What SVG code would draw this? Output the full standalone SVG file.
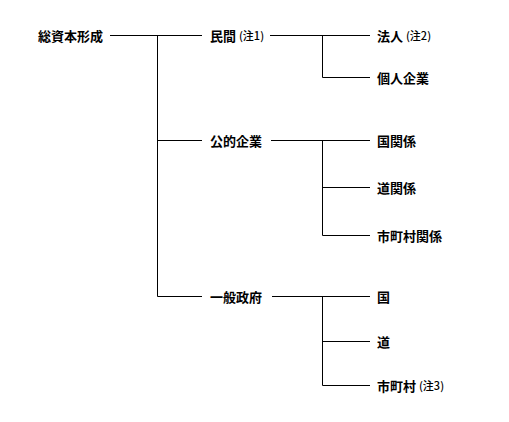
<svg xmlns="http://www.w3.org/2000/svg" width="509" height="422" viewBox="0 0 509 422">
<style>
.t{font-family:"Noto Sans CJK JP","Noto Sans",sans-serif;font-size:13px;font-weight:bold;fill:#000;dominant-baseline:central}
.n{font-size:11px;font-weight:500}
.c{stroke:#000;stroke-width:1;fill:none}
</style>
<rect width="509" height="422" fill="#fff"/>
<g id="connectors" class="c">
<path d="M110 35.5H202M157.5 35.5V296.5M157.5 140.5H202M157.5 296.5H202"/>
<path d="M270 35.5H370M322.5 35.5V77.5H370"/>
<path d="M271 140.5H370M322.5 140.5V235.5H370M322.5 187.5H370"/>
<path d="M272 296.5H370M322.5 296.5V385.5H370M322.5 341.5H370"/>
</g>
<g id="n-root"><text class="t" x="38" y="35">総資本形成</text></g>
<g id="n-minkan"><text class="t" x="210" y="35">民間 <tspan class="n">(注1)</tspan></text></g>
<g id="n-koteki"><text class="t" x="210" y="140">公的企業</text></g>
<g id="n-ippan"><text class="t" x="210" y="296">一般政府</text></g>
<g id="n-hojin"><text class="t" x="377" y="35">法人 <tspan class="n">(注2)</tspan></text></g>
<g id="n-kojin"><text class="t" x="377" y="77">個人企業</text></g>
<g id="n-kunikankei"><text class="t" x="377" y="140">国関係</text></g>
<g id="n-dokankei"><text class="t" x="377" y="187">道関係</text></g>
<g id="n-shichosonkankei"><text class="t" x="377" y="235">市町村関係</text></g>
<g id="n-kuni"><text class="t" x="377" y="296">国</text></g>
<g id="n-do"><text class="t" x="377" y="341">道</text></g>
<g id="n-shichoson"><text class="t" x="377" y="385">市町村 <tspan class="n">(注3)</tspan></text></g>
</svg>
